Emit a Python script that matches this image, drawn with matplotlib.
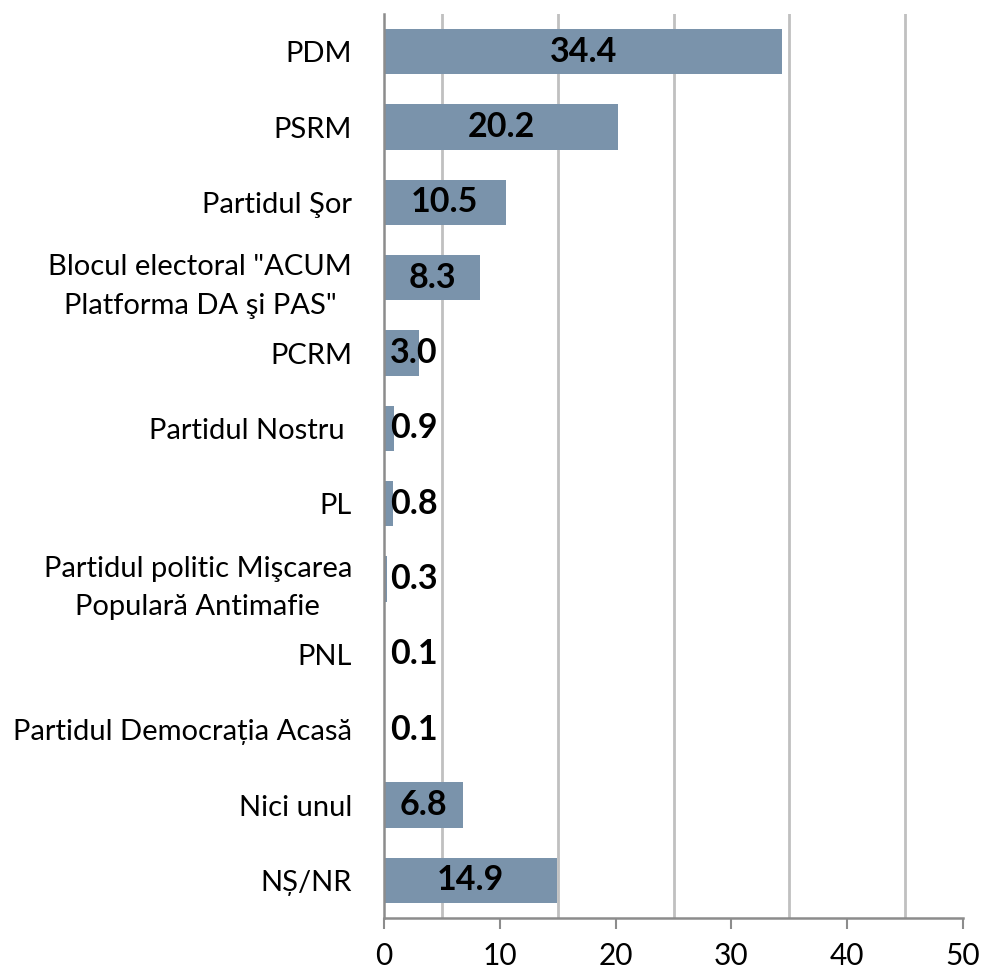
import matplotlib
matplotlib.use("Agg")
import matplotlib.pyplot as plt

categories = [
    "PDM",
    "PSRM",
    "Partidul Şor",
    "Blocul electoral \"ACUM\nPlatforma DA şi PAS\"",
    "PCRM",
    "Partidul Nostru ",
    "PL",
    "Partidul politic Mişcarea\nPopulară Antimafie",
    "PNL",
    "Partidul Democrația Acasă",
    "Nici unul",
    "NȘ/NR",
]
values = [34.4, 20.2, 10.5, 8.3, 3.0, 0.9, 0.8, 0.3, 0.1, 0.1, 6.8, 14.9]
xticks = [0, 10, 20, 30, 40, 50]
gridlines = [5, 15, 25, 35, 45]

FAM = ["Lato", "DejaVu Sans"]
plt.rcParams["font.family"] = FAM

fig = plt.figure(figsize=(9.83, 9.68), dpi=100)
ax = fig.add_axes([384 / 983, 1 - 918 / 968, (963 - 384) / 983, (918 - 14) / 968])

ypos = list(range(len(categories)))
ax.barh(ypos, values, height=0.6, color="#7a93ab", zorder=3)
ax.set_ylim(len(categories) - 0.5, -0.5)
ax.set_xlim(0, 50)

for g in gridlines:
    ax.axvline(g, color="#c0c0c0", lw=2, zorder=1)

ax.set_xticks(xticks)
ax.set_xticklabels([str(t) for t in xticks], fontsize=21.5)
ax.tick_params(axis="x", direction="out", length=8, width=1.5, color="#8c8c8c", pad=9)
ax.set_yticks(ypos)
ax.set_yticklabels(categories, fontsize=21, multialignment="center", linespacing=1.6)
ax.tick_params(axis="y", length=0, pad=23)

for s in ["top", "right"]:
    ax.spines[s].set_visible(False)
for s in ["left", "bottom"]:
    ax.spines[s].set_color("#8c8c8c")
    ax.spines[s].set_linewidth(1.8)
    ax.spines[s].set_zorder(4)

for y, v in zip(ypos, values):
    if v >= 5:
        ax.text(v / 2, y, f"{v:.1f}", ha="center", va="center", fontsize=24.5,
                fontweight="bold", color="black", zorder=5)
    else:
        ax.annotate(f"{v:.1f}", xy=(0, y), xytext=(4.5, 0), textcoords="offset points",
                    ha="left", va="center", fontsize=24.5, fontweight="bold",
                    color="black", zorder=5)

fig.savefig("out.png", dpi=100)
